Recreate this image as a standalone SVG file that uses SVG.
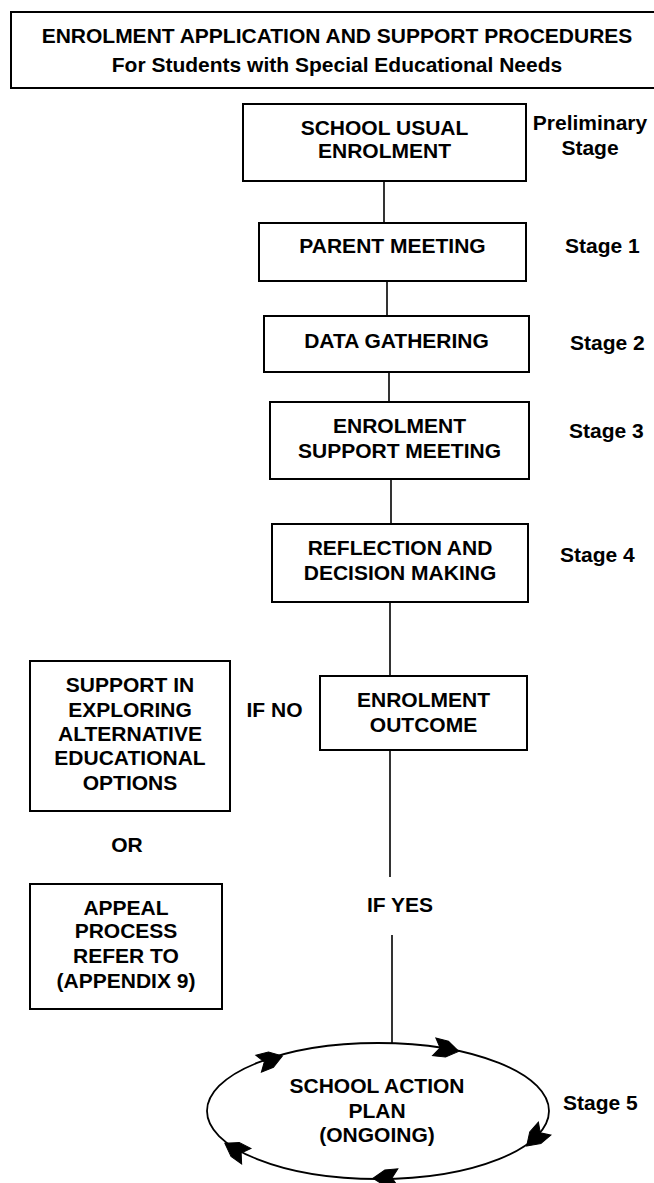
<svg xmlns="http://www.w3.org/2000/svg" width="654" height="1183" viewBox="0 0 654 1183">
<style>
text{font-family:"Liberation Sans",Arial,sans-serif;font-weight:bold;font-size:21px;fill:#000}
.c{text-anchor:middle}
.box{fill:#fff;stroke:#000;stroke-width:2}
.ln{stroke:#000;stroke-width:1.6;fill:none}
.ah{fill:#000;stroke:#000;stroke-width:1;stroke-linejoin:miter}
</style>
<defs>
<path id="arr" class="ah" d="M13,0 L1,-8 L-12,-9 L-6,0 L-12,9 L1,8 Z"/>
</defs>
<rect width="654" height="1183" fill="#fff"/>
<g id="title">
<rect class="box" x="11" y="12" width="660" height="76"/>
<text class="c" x="337" y="43">ENROLMENT APPLICATION AND SUPPORT PROCEDURES</text>
<text class="c" x="337" y="72">For Students with Special Educational Needs</text>
</g>
<g id="connectors">
<line class="ln" x1="384" y1="181" x2="384" y2="223"/>
<line class="ln" x1="387" y1="281" x2="387" y2="316"/>
<line class="ln" x1="389" y1="372" x2="389" y2="402"/>
<line class="ln" x1="391" y1="479" x2="391" y2="524"/>
<line class="ln" x1="390" y1="602" x2="390" y2="676"/>
<line class="ln" x1="390" y1="750" x2="390" y2="877"/>
<line class="ln" x1="392" y1="935" x2="392" y2="1043"/>
</g>
<g id="n-usual">
<rect class="box" x="243" y="104" width="283" height="77"/>
<text class="c" x="384.5" y="135">SCHOOL USUAL</text>
<text class="c" x="384.5" y="158">ENROLMENT</text>
</g>
<g id="l-prelim">
<text class="c" x="590" y="130">Preliminary</text>
<text class="c" x="590" y="155">Stage</text>
</g>
<g id="n-parent">
<rect class="box" x="259" y="223" width="267" height="58"/>
<text class="c" x="392.5" y="253">PARENT MEETING</text>
</g>
<text id="l-stage1" x="565" y="253">Stage 1</text>
<g id="n-data">
<rect class="box" x="264" y="316" width="265" height="56"/>
<text class="c" x="396.5" y="348">DATA GATHERING</text>
</g>
<text id="l-stage2" x="570" y="350">Stage 2</text>
<g id="n-support-meeting">
<rect class="box" x="270" y="402" width="259" height="77"/>
<text class="c" x="399.5" y="433">ENROLMENT</text>
<text class="c" x="399.5" y="458">SUPPORT MEETING</text>
</g>
<text id="l-stage3" x="569" y="438">Stage 3</text>
<g id="n-reflection">
<rect class="box" x="272" y="524" width="256" height="78"/>
<text class="c" x="400" y="555">REFLECTION AND</text>
<text class="c" x="400" y="580">DECISION MAKING</text>
</g>
<text id="l-stage4" x="560" y="562">Stage 4</text>
<g id="n-outcome">
<rect class="box" x="320" y="676" width="207" height="74"/>
<text class="c" x="423.5" y="707">ENROLMENT</text>
<text class="c" x="423.5" y="732">OUTCOME</text>
</g>
<text id="l-ifno" class="c" x="274.5" y="717">IF NO</text>
<g id="n-alternative">
<rect class="box" x="30" y="661" width="200" height="150"/>
<text class="c" x="130" y="692">SUPPORT IN</text>
<text class="c" x="130" y="717">EXPLORING</text>
<text class="c" x="130" y="741">ALTERNATIVE</text>
<text class="c" x="130" y="765">EDUCATIONAL</text>
<text class="c" x="130" y="790">OPTIONS</text>
</g>
<text id="l-or" class="c" x="127" y="852">OR</text>
<g id="n-appeal">
<rect class="box" x="30" y="884" width="192" height="125"/>
<text class="c" x="126" y="915">APPEAL</text>
<text class="c" x="126" y="938">PROCESS</text>
<text class="c" x="126" y="963">REFER TO</text>
<text class="c" x="126" y="988">(APPENDIX 9)</text>
</g>
<text id="l-ifyes" class="c" x="400" y="912">IF YES</text>
<g id="n-action-plan">
<ellipse cx="378" cy="1111" rx="171" ry="68" fill="#fff" stroke="#000" stroke-width="1.8"/>
<use href="#arr" transform="translate(446,1049) rotate(10.5)"/>
<use href="#arr" transform="translate(536,1137) rotate(136)"/>
<use href="#arr" transform="translate(386,1178) rotate(179)"/>
<use href="#arr" transform="translate(236,1150) rotate(-149)"/>
<use href="#arr" transform="translate(270,1060) rotate(-18)"/>
<text class="c" x="377" y="1093">SCHOOL ACTION</text>
<text class="c" x="377" y="1118">PLAN</text>
<text class="c" x="377" y="1142">(ONGOING)</text>
</g>
<text id="l-stage5" x="563" y="1110">Stage 5</text>
</svg>
